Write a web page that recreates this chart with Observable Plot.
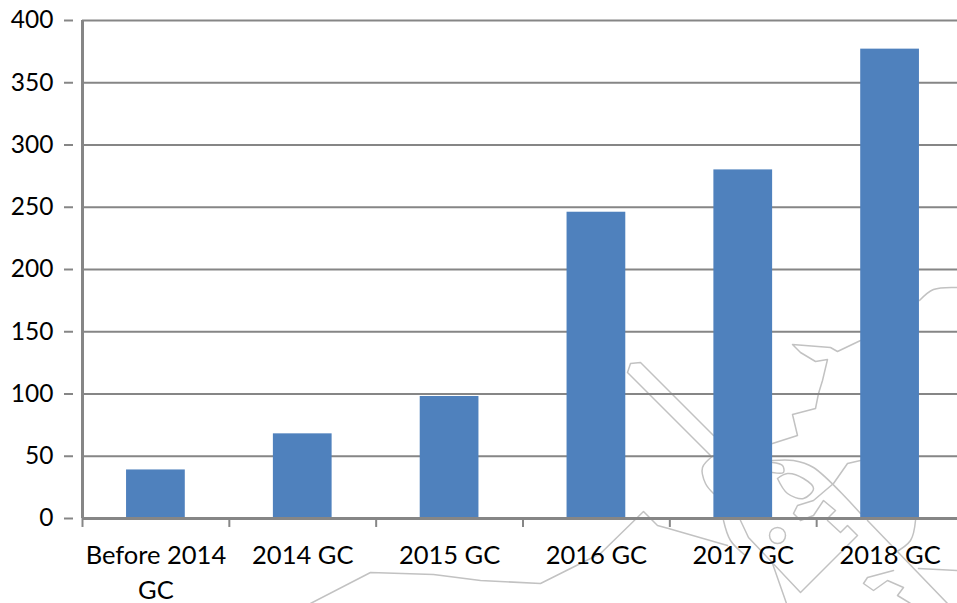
<!DOCTYPE html>
<html><head><meta charset="utf-8">
<script src="https://cdn.jsdelivr.net/npm/d3@7"></script>
<script src="https://cdn.jsdelivr.net/npm/@observablehq/plot@0.6"></script>
<style>
html,body{margin:0;padding:0;background:#fff;overflow:hidden}
#wrap{position:relative;width:957px;height:603px}
#wrap svg{position:absolute;left:0;top:0}
</style></head><body><div id="wrap"></div>
<script>
const categories = ["Before 2014 GC","2014 GC","2015 GC","2016 GC","2017 GC","2018 GC"];
const values = [39,68,98,246,280,377];
const yTicks = [0,50,100,150,200,250,300,350,400];

// Faint map watermark behind the chart (picture x, y)
const wmCoastTop = [[957,287],[933,289],[919,300]];
const wmCoast = [[860,340],[837,351],[830,347],[792,344],[800,352],[815,361],[827,359],[822,380],[818,393],[815,408],[792,414],[797,435],[772,443]];
const wmRunway = [[713,435],[640,362],[630,363],[627,372],[710,455]];
const wmCurve = [[713,455],[702,467],[705,483],[713,493]];
const wmCurveLow = [[723,520],[730,540],[745,555]];
const wmBlock = [[740,520],[748,537],[800,592],[857,535],[847,525],[840,532],[827,520]];
const wmArc = [[772,460],[793,460],[813,467],[860,513]];
const wmHook = [[772,472],[783,472],[782,465],[772,462]];
const wmBlob = [[777,478],[787,473],[803,478],[813,488],[803,498],[787,493],[777,478]];
const wmKey = [[860,460],[847,463],[833,483],[813,500],[797,505],[793,513],[800,520],[813,515],[823,500],[835,510],[827,518]];
const wmDiagonal = [[867,520],[947,603]];
const wmRightCurve = [[915,520],[910,540],[893,553]];
const wmRoad = [[310,603],[370,572],[433,574],[480,580],[540,583],[600,553],[643,511],[657,525],[668,528],[727,545]];
const wmEast = [[918,568],[957,570]];
const wmKeyLow = [[893,570],[867,577],[863,583],[873,590],[887,580],[903,587],[897,595],[910,603]];
const wmStem = [[772,563],[786,603]];
const wmCircle = [[777,535]];
const wmStraight = [wmCoast,wmRunway,wmBlock,wmKey,wmDiagonal,wmRoad,wmEast,wmKeyLow,wmStem];
const wmCurved = [wmCoastTop,wmCurve,wmCurveLow,wmArc,wmHook,wmBlob,wmRightCurve];

const rows = categories.map((c,i)=>({category:c,value:values[i]}));
const axisGray = "#868686";
const wmGray = "#c2c2c2";
const step = (963-82)/categories.length;
const font = "Lato, 'Open Sans', sans-serif";

const watermark = Plot.plot({
  width:957,height:603,margin:0,
  x:{domain:[0,957],range:[0,957],axis:null},
  y:{domain:[0,603],range:[0,603],axis:null},
  style:{background:"transparent"},
  marks:[
    ...wmStraight.map(p=>Plot.line(p,{x:d=>d[0],y:d=>d[1],stroke:wmGray,strokeWidth:1.5})),
    ...wmCurved.map(p=>Plot.line(p,{x:d=>d[0],y:d=>d[1],stroke:wmGray,strokeWidth:1.5,curve:"catmull-rom"})),
    Plot.dot(wmCircle,{x:d=>d[0],y:d=>d[1],r:8,stroke:wmGray,strokeWidth:1.5,fill:"none"})
  ]
});

const chart = Plot.plot({
  width:957,height:603,
  marginTop:20,marginBottom:85,marginLeft:82,marginRight:-6,
  style:{background:"transparent",fontFamily:font},
  x:{domain:categories,paddingInner:0.6,paddingOuter:0.3,round:false,label:null,axis:null},
  y:{domain:[0,400],label:null,axis:null},
  marks:[
    Plot.ruleY(yTicks.slice(1),{stroke:axisGray,strokeWidth:2}),
    Plot.barY(rows,{x:"category",y:"value",fill:"#4f81bd"}),
    Plot.ruleY([0],{stroke:axisGray,strokeWidth:3}),
    Plot.ruleX(categories,{x:d=>d,y1:0,y2:-7.2,dx:-step/2,stroke:axisGray,strokeWidth:2}),
    Plot.ruleX([categories[0]],{x:d=>d,y1:0,y2:400,dx:-step/2,stroke:axisGray,strokeWidth:3}),
    Plot.axisY({ticks:yTicks,anchor:"left",tickSize:9,tickPadding:11,stroke:axisGray,strokeWidth:2,
      fill:"#000",fontSize:24.5,label:null,tickFormat:d=>String(d),dx:-9}),
    Plot.text(rows,{x:"category",y:0,text:"category",dy:21,lineAnchor:"top",lineWidth:6.2,lineHeight:1.37,
      fontSize:25.5,fill:"#000"})
  ]
});
const wrap=document.getElementById("wrap");
wrap.append(watermark,chart);
</script></body></html>
